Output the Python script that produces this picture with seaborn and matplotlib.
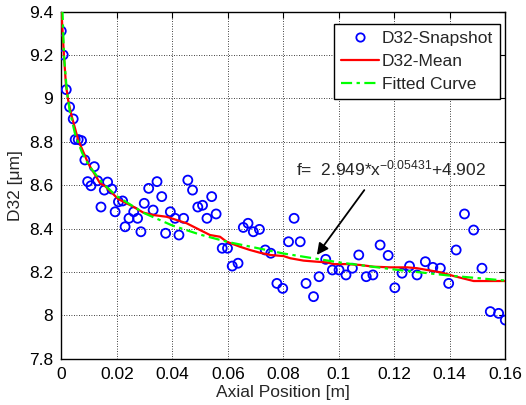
import matplotlib
matplotlib.use("Agg")
import matplotlib.pyplot as plt
import seaborn as sns
import pandas as pd
from matplotlib.lines import Line2D

# ---- data ----
snap_x = [0.0000, 0.0007, 0.0018, 0.0030, 0.0043, 0.0050, 0.0061, 0.0073, 0.0085, 0.0095,
          0.0107, 0.0119, 0.0131, 0.0143, 0.0155, 0.0167, 0.0182, 0.0194, 0.0206, 0.0221,
          0.0230, 0.0244, 0.0261, 0.0275, 0.0287, 0.0299, 0.0315, 0.0331, 0.0345, 0.0362,
          0.0376, 0.0393, 0.0410, 0.0424, 0.0441, 0.0456, 0.0473, 0.0492, 0.0509, 0.0525,
          0.0542, 0.0558, 0.0580, 0.0599, 0.0616, 0.0637, 0.0656, 0.0673, 0.0692, 0.0714,
          0.0735, 0.0755, 0.0777, 0.0798, 0.0819, 0.0839, 0.0861, 0.0882, 0.0909, 0.0929,
          0.0953, 0.0977, 0.1001, 0.1026, 0.1049, 0.1072, 0.1099, 0.1123, 0.1149, 0.1178,
          0.1202, 0.1228, 0.1255, 0.1282, 0.1312, 0.1339, 0.1366, 0.1396, 0.1423, 0.1453,
          0.1486, 0.1516, 0.1546, 0.1576, 0.1600]
snap_y = [9.31, 9.20, 9.04, 8.96, 8.905, 8.81, 8.81, 8.805, 8.716, 8.616,
          8.597, 8.685, 8.62, 8.499, 8.577, 8.614, 8.582, 8.477, 8.523, 8.527,
          8.408, 8.447, 8.477, 8.447, 8.385, 8.516, 8.585, 8.485, 8.616, 8.547,
          8.378, 8.477, 8.447, 8.37, 8.447, 8.623, 8.577, 8.499, 8.507, 8.447,
          8.547, 8.467, 8.309, 8.309, 8.227, 8.24, 8.405, 8.424, 8.385, 8.396,
          8.301, 8.286, 8.147, 8.124, 8.339, 8.447, 8.339, 8.147, 8.086, 8.178,
          8.258, 8.209, 8.209, 8.186, 8.217, 8.278, 8.178, 8.186, 8.324, 8.276,
          8.127, 8.194, 8.227, 8.186, 8.247, 8.221, 8.217, 8.147, 8.301, 8.467,
          8.393, 8.217, 8.017, 8.009, 7.978]

mean_x = [0.0, 0.0005, 0.001, 0.0017, 0.0025, 0.0037, 0.0061, 0.0097, 0.014, 0.0158,
          0.0206, 0.026, 0.0296, 0.0332, 0.038, 0.0416, 0.0452, 0.05, 0.0536, 0.0572,
          0.0596, 0.0644, 0.068, 0.0717, 0.0753, 0.0801, 0.0825, 0.0873, 0.0921, 0.0957,
          0.0981, 0.1029, 0.1077, 0.1125, 0.1185, 0.1246, 0.1282, 0.1318, 0.1366, 0.1414,
          0.1486, 0.16]
mean_y = [9.42, 9.30, 9.19, 9.06, 8.99, 8.92, 8.808, 8.70, 8.608, 8.595,
          8.535, 8.50, 8.473, 8.462, 8.454, 8.439, 8.424, 8.393, 8.37, 8.362,
          8.339, 8.316, 8.301, 8.288, 8.278, 8.273, 8.263, 8.252, 8.247, 8.244,
          8.236, 8.236, 8.232, 8.224, 8.221, 8.221, 8.217, 8.209, 8.198, 8.181,
          8.158, 8.158]

fit_x = [0.0004, 0.001, 0.002, 0.003, 0.005, 0.0075, 0.01, 0.015, 0.02, 0.03,
         0.04, 0.05, 0.06, 0.08, 0.10, 0.12, 0.14, 0.16]
fit_y = [9.412, 9.193, 9.035, 8.945, 8.834, 8.749, 8.689, 8.607, 8.549, 8.470,
         8.414, 8.372, 8.338, 8.285, 8.244, 8.211, 8.183, 8.160]

x_ticks = [0, 0.02, 0.04, 0.06, 0.08, 0.10, 0.12, 0.14, 0.16]
x_tick_labels = ["0", "0.02", "0.04", "0.06", "0.08", "0.1", "0.12", "0.14", "0.16"]
y_ticks = [7.8, 8.0, 8.2, 8.4, 8.6, 8.8, 9.0, 9.2, 9.4]
y_tick_labels = ["7.8", "8", "8.2", "8.4", "8.6", "8.8", "9", "9.2", "9.4"]

legend_labels = ["D32-Snapshot", "D32-Mean", "Fitted Curve"]
annot_text = r"f=  2.949*x$^{-0.05431}$+4.902"
arrow_head = (0.0921, 8.278)
arrow_tail = (0.1092, 8.577)
text_pos = (0.0846, 8.647)

# ---- styling ----
sns.set_style("white")
plt.rcParams["font.family"] = ["Liberation Sans", "DejaVu Sans"]
plt.rcParams["mathtext.fontset"] = "custom"
plt.rcParams["mathtext.rm"] = "Liberation Sans"
plt.rcParams["mathtext.it"] = "Liberation Sans"
plt.rcParams["mathtext.default"] = "rm"
FS = 12.5

fig = plt.figure(figsize=(5.26, 4.05), dpi=100)
ax = fig.add_axes([0.1165, 0.1143, 0.8441, 0.8573])

df_s = pd.DataFrame({"x": snap_x, "y": snap_y})
df_m = pd.DataFrame({"x": mean_x, "y": mean_y})
df_f = pd.DataFrame({"x": fit_x, "y": fit_y})

sns.scatterplot(data=df_s, x="x", y="y", ax=ax, marker="o", s=42, linewidth=1.3,
                legend=False, zorder=3)
coll = ax.collections[-1]
coll.set_facecolor("none")
coll.set_edgecolor("blue")

sns.lineplot(data=df_m, x="x", y="y", ax=ax, color="red", linewidth=1.6,
             estimator=None, sort=False, legend=False, zorder=4)
sns.lineplot(data=df_f, x="x", y="y", ax=ax, color="#00ff00", linewidth=1.6,
             estimator=None, sort=False, legend=False, zorder=5)
ax.lines[-1].set_dashes((5, 2, 1.5, 2))

ax.set_xlim(0, 0.16)
ax.set_ylim(7.8, 9.4)
ax.set_xticks(x_ticks)
ax.set_xticklabels(x_tick_labels)
ax.set_yticks(y_ticks)
ax.set_yticklabels(y_tick_labels)
ax.tick_params(direction="in", length=4, width=0.8, top=True, right=True,
               labelsize=FS, pad=6, colors="black")
ax.grid(True, linestyle=(0, (1, 2)), color="black", linewidth=0.6)
for sp in ax.spines.values():
    sp.set_visible(True)
    sp.set_color("black")
    sp.set_linewidth(1.0)

ax.set_xlabel("Axial Position [m]", fontsize=FS, labelpad=2)
ax.set_ylabel("D32 [μm]", fontsize=FS, labelpad=4)

ax.annotate("", xy=arrow_head, xytext=arrow_tail,
            arrowprops=dict(arrowstyle="-|>", color="black", lw=1.3,
                            mutation_scale=17, shrinkA=0, shrinkB=0), zorder=6)
ax.text(text_pos[0], text_pos[1], annot_text, fontsize=FS, ha="left",
        va="baseline", zorder=6)

handles = [
    Line2D([], [], marker="o", linestyle="none", markerfacecolor="none",
           markeredgecolor="blue", markersize=6, markeredgewidth=1.3),
    Line2D([], [], color="red", linewidth=1.6),
    Line2D([], [], color="#00ff00", linewidth=1.6, dashes=(5, 2, 1.5, 2)),
]
leg = ax.legend(handles, legend_labels, loc="upper right",
                bbox_to_anchor=(0.988, 0.963), borderaxespad=0,
                fontsize=FS, frameon=True, fancybox=False, framealpha=1,
                edgecolor="black", handlelength=2.2, handletextpad=0.15,
                labelspacing=0.45, borderpad=0.4)
leg.get_frame().set_linewidth(1.0)
leg.set_zorder(10)

fig.savefig("out.png", dpi=100)
